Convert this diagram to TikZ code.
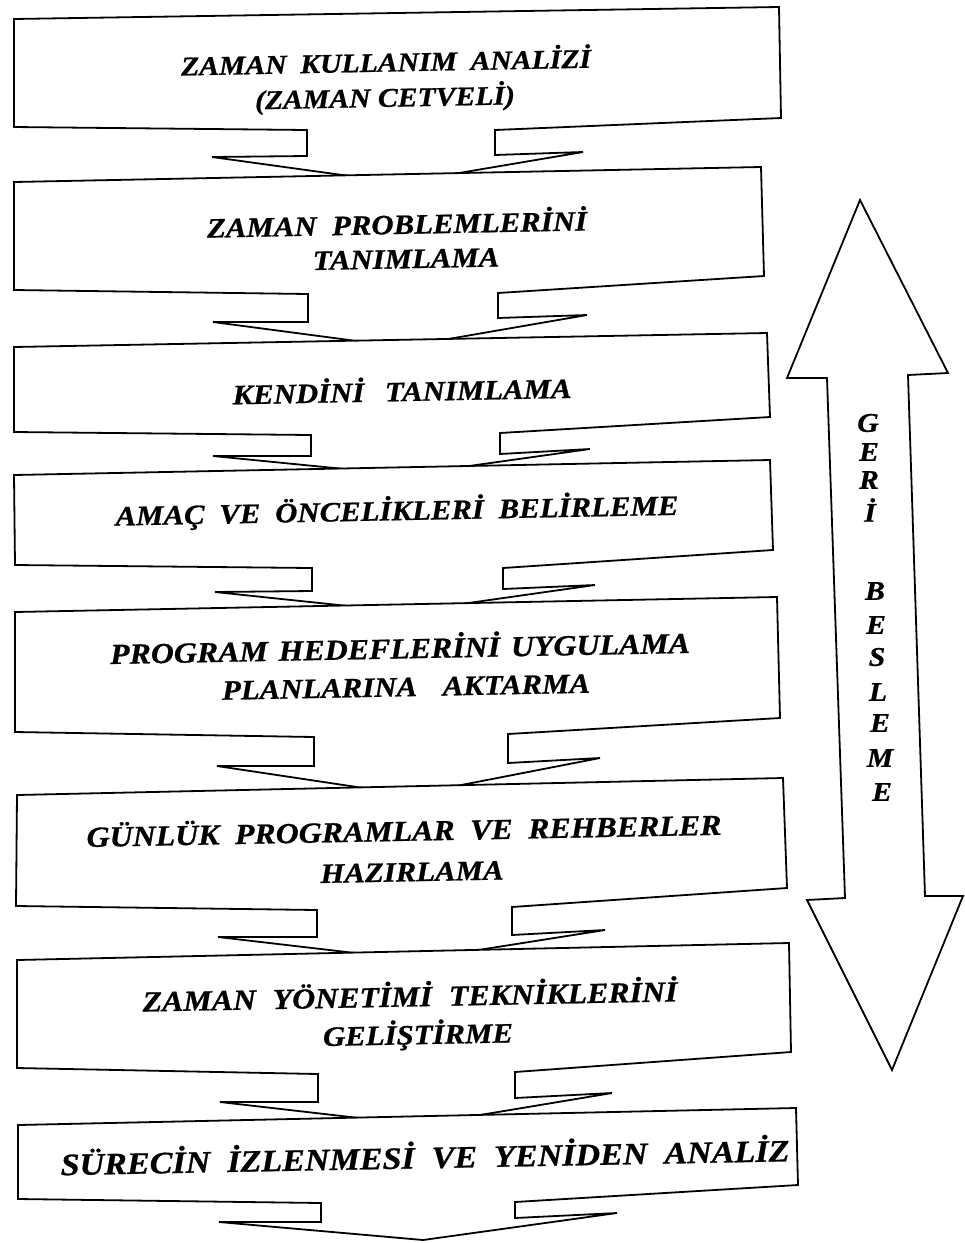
\documentclass[tikz,border=0pt]{standalone}
\usepackage{fontspec}
\setmainfont{Liberation Serif}
\newfontfamily\lblfont[FakeStretch=1.1,FakeBold=0.8]{Liberation Serif}
\begin{document}
\begin{tikzpicture}[x=1pt,y=-1pt,
  boxline/.style={draw=black, line width=1.8pt, line join=miter, fill=white},
  lbl/.style={font=\lblfont\bfseries\itshape\fontsize{27}{29}\selectfont, rotate=1.1, inner sep=0pt, anchor=center},
  mid/.style={font=\lblfont\bfseries\itshape\fontsize{28}{30}\selectfont},
  big/.style={font=\lblfont\bfseries\itshape\fontsize{29}{31}\selectfont},
  huge/.style={font=\lblfont\bfseries\itshape\fontsize{31}{33}\selectfont},
  fb/.style={font=\lblfont\bfseries\itshape\fontsize{27}{29}\selectfont, inner sep=0pt, anchor=center}]
\useasboundingbox (0,0) rectangle (965,1243);
\fill[white] (0,0) rectangle (965,1243);

% box 1
\draw[boxline] (14,19) -- (779,7) -- (781,118) -- (495,130) -- (495,155) -- (583,152)
  -- (400,183) -- (212,157) -- (307,156) -- (307,130) -- (14,127) -- cycle;
% box 2
\draw[boxline] (14,182) -- (761,167) -- (764,276) -- (498,293) -- (498,318) -- (587,315)
  -- (402,347) -- (213,322) -- (308,322) -- (308,294) -- (14,290) -- cycle;
% box 3
\draw[boxline] (14,347) -- (767,333) -- (770,417) -- (500,433) -- (500,454) -- (590,449)
  -- (405,475) -- (213,456) -- (311,456) -- (311,435) -- (14,432) -- cycle;
% box 4
\draw[boxline] (14,475) -- (770,460) -- (773,550) -- (503,568) -- (503,589) -- (595,585)
  -- (405,612) -- (215,592) -- (312,591) -- (312,568) -- (15,565) -- cycle;
% box 5
\draw[boxline] (15,612) -- (777,597) -- (780,718) -- (508,734) -- (508,763) -- (600,758)
  -- (410,795) -- (217,766) -- (314,766) -- (314,737) -- (15,732) -- cycle;
% box 6
\draw[boxline] (17,795) -- (783,778) -- (787,888) -- (512,907) -- (512,935) -- (605,930)
  -- (415,960) -- (218,937) -- (317,937) -- (317,910) -- (16,906) -- cycle;
% box 7
\draw[boxline] (17,960) -- (789,943) -- (791,1052) -- (515,1072) -- (515,1098) -- (612,1093)
  -- (420,1125) -- (220,1102) -- (318,1102) -- (318,1074) -- (17,1068) -- cycle;
% box 8
\draw[boxline] (18,1125) -- (796,1108) -- (798,1185) -- (515,1202) -- (515,1218) -- (617,1213)
  -- (423,1240) -- (219,1222) -- (321,1222) -- (321,1203) -- (18,1199) -- cycle;

% feedback double arrow
\draw[boxline] (860,200) -- (948,373) -- (908,375) -- (925,896) -- (963,896) -- (892,1070)
  -- (807,900) -- (845,898) -- (827,378) -- (787,378) -- cycle;

% texts
\node[lbl] (t1)  at (386,60)  {\makebox[410pt][s]{ZAMAN KULLANIM ANALİZİ}};
\node[lbl] (t1b) at (385,98)  {(ZAMAN CETVELİ)};
\node[lbl,mid] (t2)  at (397,222) {\makebox[380pt][s]{ZAMAN PROBLEMLERİNİ}};
\node[lbl,mid] (t2b) at (406,259) {TANIMLAMA};
\node[lbl,mid] (t3)  at (402,389) {\makebox[339pt][s]{KENDİNİ TANIMLAMA}};
\node[lbl,mid] (t4)  at (397,511) {\makebox[563pt][s]{AMAÇ VE ÖNCELİKLERİ BELİRLEME}};
\node[lbl,big] (t5)  at (400,646) {\makebox[580pt][s]{PROGRAM HEDEFLERİNİ UYGULAMA}};
\node[lbl,mid] (t5b) at (406,687) {\makebox[368pt][s]{PLANLARINA AKTARMA}};
\node[lbl,big] (t6)  at (404,829) {\makebox[635pt][s]{GÜNLÜK PROGRAMLAR VE REHBERLER}};
\node[lbl,mid] (t6b) at (412,872) {HAZIRLAMA};
\node[lbl,big] (t7)  at (410,994) {\makebox[535pt][s]{ZAMAN YÖNETİMİ TEKNİKLERİNİ}};
\node[lbl,mid] (t7b) at (418,1035) {GELİŞTİRME};
\node[lbl,huge] (t8)  at (425,1155) {\makebox[729pt][s]{SÜRECİN İZLENMESİ VE YENİDEN ANALİZ}};

% GERİ BESLEME
\node[fb] (g1)  at (868,423) {G};
\node[fb] (g2)  at (869,452) {E};
\node[fb] (g3)  at (869,480) {R};
\node[fb] (g4)  at (870,510) {İ};
\node[fb] (b1)  at (875,591) {B};
\node[fb] (b2)  at (876,625) {E};
\node[fb] (b3)  at (877,657) {S};
\node[fb] (b4)  at (878,692) {L};
\node[fb] (b5)  at (880,723) {E};
\node[fb] (b6)  at (880,758) {M};
\node[fb] (b7)  at (882,792) {E};
\end{tikzpicture}
\end{document}
